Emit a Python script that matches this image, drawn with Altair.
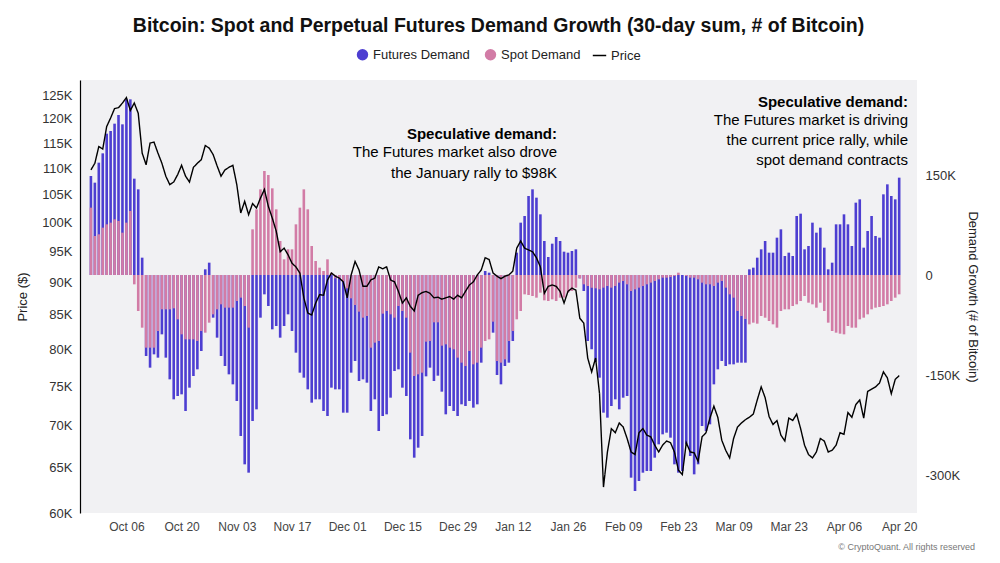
import pandas as pd
import altair as alt

FONT = "Liberation Sans"
BLUE = "#4D3ED1"
PINK = "#D27CA6"

# daily values, 2024-09-27 .. 2025-04-20 (thousands of BTC, price in $K)
futures = [
    148.5, 138.5, 168.5, 182.5, 212, 216, 227, 240, 226, 263.5,
    263.5, 144.5, 128.5, 26, -121.5, -139, -119, -124, -89, -124,
    -156.5, -186.5, -181.5, -179, -204, -169, -151.5, -141.5, -114, 8.5,
    18.5, -64, -94, -121.5, -136.5, -149, -164, -189, -241.5, -284,
    -296.5, -219, -201.5, -64, -29, -46.5, -81.5, -76.5, -94, -76.5,
    -59, -84,
    -116.5, -146.5, -154, -171.5, -191.5, -186.5, -186.5, -204, -211.5, -169,
    -171.5, -171.5, -206.5, -206.5, -146.5, -129, -159, -156.5, -161.5, -204,
    -186.5, -234, -211.5, -209, -184, -144, -141.5, -169, -181.5, -246.5,
    -274, -259, -241.5, -152, -139, -159, -151, -175, -209, -196.5,
    -204, -211.5, -194, -196.5, -189, -199, -194, -131.5, 6, 3.5,
    -86.5, -150, -164, -136.5, -131.5, -99, 33.5, 78.5, 88.5, 118.5,
    128.5, 116, 91, 51, 27, 47, 57, 51, 35, 33.5,
    36, 38.5, -5, -24, -99, -111.5, -130, -154, -206.5, -214,
    -196.5, -186.5, -201.5, -184, -181.5, -304, -324, -309, -296.5, -294,
    -294, -274, -254, -239, -236.5, -244, -284, -296.5, -294, -254,
    -271.5,
    -299, -284, -226.5, -234, -224, -164, -141.5, -129, -136.5, -134,
    -134, -131.5, -131.5, -131.5, 8.5, 11, 26, 38.5, 51, 33.5,
    33.5, 56, 68.5, 28.5, 33.5, 28.5, 88.5, 92, 38.5, 43.5,
    78.5, 63.5, 71, 41, 8.5, 18.5, 76, 76, 91, 76,
    43.5, 108.5, 113.5, 41, 66, 88.5, 58.5, 56, 121, 136,
    118.5, 113.5, 146,
]
spot = [
    101, 58.5, 61, 71, 76, 78.5, 83.5, 81, 63.5, 78.5,
    96, -14, -54, -79, -109, -109, -109, -84, -51.5, -51.5,
    -51.5, -50, -66.5, -89, -96.5, -96.5, -96.5, -99, -84, -86.5,
    -71.5, -59, -51.5, -44, -49, -49, -49, -39, -34, -46.5,
    -79, 68.5, 98.5, 128.5, 156, 150, 130, 98.5, 51, 23.5,
    38.5, 38.5,
    76, 101, 128.5, 98.5, 43.5, 21, 11, 6, 23.5, 3.5,
    -5, -5, -10, -20, -35, -45, -55, -64, -61.5, -109,
    -101.5, -99, -58, -54, -59, -64, -46.5, -54, -64, -116.5,
    -151.5, -149, -146.5, -100, -99, -71, -71, -106, -104, -109,
    -111.5, -124, -131.5, -136.5, -114, -134, -131.5, -109, -99, -96.5,
    -70, -129, -131.5, -126.5, -99, -84, -66.5, -54, -29, -30,
    -31.5, -34, -26.5, -38, -39, -36.5, -39, -34, -34, -26.5,
    -24, -19, -5, -14, -16.5, -19, -20, -21.5, -19, -16.5,
    -19, -16.5, -11.5, -9, -14, -24, -21.5, -19, -16.5, -14,
    -11.5, -9, -6.5, -4, -4, -3, -1.5, 3.5, 0, -1.5, -4,
    -4, -6.5, -11.5, -14, -14, -16.5, -11.5, -9, -19, -29,
    -34, -54, -61.5, -66, -74, -71.5, -73, -61.5, -64, -69,
    -74, -79, -54, -51.5, -51.5, -46.5, -44, -39, -31.5, -41.5,
    -44, -49, -41.5, -54, -71.5, -84, -86.5, -88, -89, -76.5,
    -79, -79, -66.5, -64, -59, -51.5, -49, -48, -46.5, -44,
    -39, -34, -29,
]
price = [
    109.7, 111, 114.3, 113.8, 118.4, 120.2, 122.2, 122.4, 123.4, 124.6,
    121.8, 123.4, 121.2, 113, 110.7, 115, 115.2, 113, 111, 108.5,
    106.9, 107.4, 108.8, 110.6, 108.5, 107.4, 110.2, 111, 111.7, 114.5,
    114, 112.7, 110.5, 108.5, 109.7, 110.2, 110.6, 106.9, 101.7, 103.8,
    101.4, 103.4, 102.6, 104.4, 106, 102.9, 100.8, 98.5, 95, 95.6,
    94.5, 93.1,
    92.5, 91.5, 87.6, 85.3, 85, 86.8, 88.1, 88, 90.4, 91.5,
    91, 90.7, 90.1, 87.6, 91.2, 93.4, 92, 89.4, 89.4, 90.4,
    90.7, 92.5, 92.2, 92.5, 90.4, 90.1, 88.6, 86.8, 87.6, 86.3,
    85.6, 88, 88.4, 88.6, 88.3, 87.6, 87.7, 87.4, 87.6, 87.8,
    87.4, 88, 87.6, 88.6, 89.6, 90.1, 91.2, 92, 94, 93.7,
    91.5, 91, 90.6, 91, 91.2, 91.8, 95.6, 96.8, 95.6, 95.3,
    95, 94, 92.5, 88.3, 89.4, 89.6, 89.4, 88.6, 86.8, 88.6,
    89.1, 88.8, 84.5, 83.8, 78.8, 76.9, 78.8, 74, 62.8, 66.8,
    69.6, 69.1, 70.3, 69.8, 68.4, 66.8, 66.5, 69.1, 69.6, 68.8,
    68.6, 67.6, 66.8, 67.6, 68.1, 67.9, 66.8, 64.7, 64.2, 67.9,
    66.8,
    66.7, 65.7, 68.6, 69.1, 70.9, 72.4, 71, 68.2, 67, 66.1,
    68.4, 69.8, 70.3, 70.7, 71, 71.4, 73.2, 74.9, 73.5, 71.1,
    70.1, 70.6, 68.8, 68.1, 70.9, 70.6, 71.4, 69.6, 67.6, 66.5,
    66.1, 66.8, 68.4, 68.1, 66.8, 67, 67.6, 69.1, 68.9, 71.6,
    71, 72.6, 73.2, 70.9, 74.3, 74.6, 74.9, 75.4, 76.9, 76.1,
    74, 75.9, 76.4,
]

dates = pd.date_range("2024-09-27", periods=len(price), freq="D").strftime("%Y-%m-%d")
bars_df = pd.concat([
    pd.DataFrame({"date": dates, "value": [v * 1000 for v in futures], "series": "Futures Demand"}),
    pd.DataFrame({"date": dates, "value": [v * 1000 for v in spot], "series": "Spot Demand"}),
])
price_df = pd.DataFrame({"date": dates, "price": [p * 1000 for p in price], "series": "Price"})

tick_dates = pd.date_range("2024-10-06", "2025-04-20", freq="14D")
x_scale = alt.Scale(type="utc", domain=["2024-09-25T12:00:00Z", "2025-04-23T06:00:00Z"])
x_enc = alt.X("date:T", scale=x_scale, title=None,
              axis=alt.Axis(values=[alt.DateTime(year=d.year, month=d.month, date=d.day, utc=True)
                                    for d in tick_dates],
                            labelExpr="utcFormat(datum.value, '%b %d')", grid=False, domain=False,
                            ticks=False, labelPadding=8, labelFontSize=12, labelColor="#444"))

bars = alt.Chart(bars_df).mark_bar(width=2.6).encode(
    x=x_enc,
    y=alt.Y("value:Q", stack=None, title="Demand Growth (# of Bitcoin)",
            scale=alt.Scale(domain=[-357000, 292500], nice=False, zero=False),
            axis=alt.Axis(orient="right", values=[-300000, -150000, 0, 150000],
                          labelExpr="datum.value == 0 ? '0' : (datum.value / 1000) + 'K'",
                          grid=False, domain=False, ticks=False, labelPadding=8, titlePadding=6)),
    color=alt.Color("series:N", scale=alt.Scale(domain=["Futures Demand", "Spot Demand"], range=[BLUE, PINK]),
                    legend=alt.Legend(title=None, orient="none", legendX=276, legendY=-32, direction="horizontal",
                                      symbolType="circle", symbolSize=130, symbolOpacity=1, labelFontSize=13,
                                      columnPadding=14)),
)

line = alt.Chart(price_df).mark_line(color="black", strokeWidth=1.4).encode(
    x=x_enc,
    y=alt.Y("price:Q", title="Price ($)",
            scale=alt.Scale(type="log", domain=[60000, 128500], nice=False),
            axis=alt.Axis(orient="left", values=list(range(60000, 130000, 5000)),
                          labelExpr="(datum.value / 1000) + 'K'", grid=False, ticks=False,
                          domainColor="black", domainWidth=1.2, labelPadding=8, titlePadding=12)),
    strokeDash=alt.StrokeDash("series:N", scale=alt.Scale(domain=["Price"], range=[[1, 0]]),
                              legend=alt.Legend(title=None, orient="none", legendX=512, legendY=-32,
                                                symbolStrokeColor="black", symbolStrokeWidth=1.5,
                                                symbolSize=180, labelFontSize=13)),
)

ann1 = alt.Chart(pd.DataFrame({"t": ["Speculative demand:"]})).mark_text(
    align="right", fontWeight="bold", fontSize=15, font=FONT).encode(
    text="t:N", x=alt.value(477), y=alt.value(54))
ann1b = alt.Chart(pd.DataFrame({"t": ["The Futures market also drove\nthe January rally to $98K"]})).mark_text(
    align="right", baseline="top", fontSize=15, font=FONT, lineBreak="\n", lineHeight=21).encode(
    text="t:N", x=alt.value(477), y=alt.value(65))
ann2 = alt.Chart(pd.DataFrame({"t": ["Speculative demand:"]})).mark_text(
    align="right", fontWeight="bold", fontSize=15, font=FONT).encode(
    text="t:N", x=alt.value(828), y=alt.value(22))
ann2b = alt.Chart(pd.DataFrame({"t": ["The Futures market is driving\nthe current price rally, while\nspot demand contracts"]})).mark_text(
    align="right", baseline="top", fontSize=15, font=FONT, lineBreak="\n", lineHeight=20).encode(
    text="t:N", x=alt.value(828), y=alt.value(33))
credit = alt.Chart(pd.DataFrame({"t": ["© CryptoQuant. All rights reserved"]})).mark_text(
    align="right", fontSize=9, color="#777", font=FONT).encode(
    text="t:N", x=alt.value(895), y=alt.value(467))

chart = alt.layer(bars, line, ann1, ann1b, ann2, ann2b, credit).resolve_scale(
    y="independent", color="independent"
).properties(
    width=837, height=433,
    autosize=alt.AutoSizeParams(type="none"),
    padding={"left": 72, "top": 72, "right": 75, "bottom": 42},
    title=alt.Title("Bitcoin: Spot and Perpetual Futures Demand Growth (30-day sum, # of Bitcoin)",
                    fontSize=19.5, fontWeight="bold", font=FONT, offset=12, anchor="middle", color="#111"),
).configure_view(fill="#F1F1F3", stroke=None).configure_axis(
    labelFont=FONT, titleFont=FONT, labelFontSize=13, titleFontSize=13, labelColor="#333",
    titleColor="#222", titleFontWeight="normal"
).configure_legend(labelFont=FONT, labelColor="#222")

chart.save("out.html", embed_options={"renderer": "svg", "actions": False})
